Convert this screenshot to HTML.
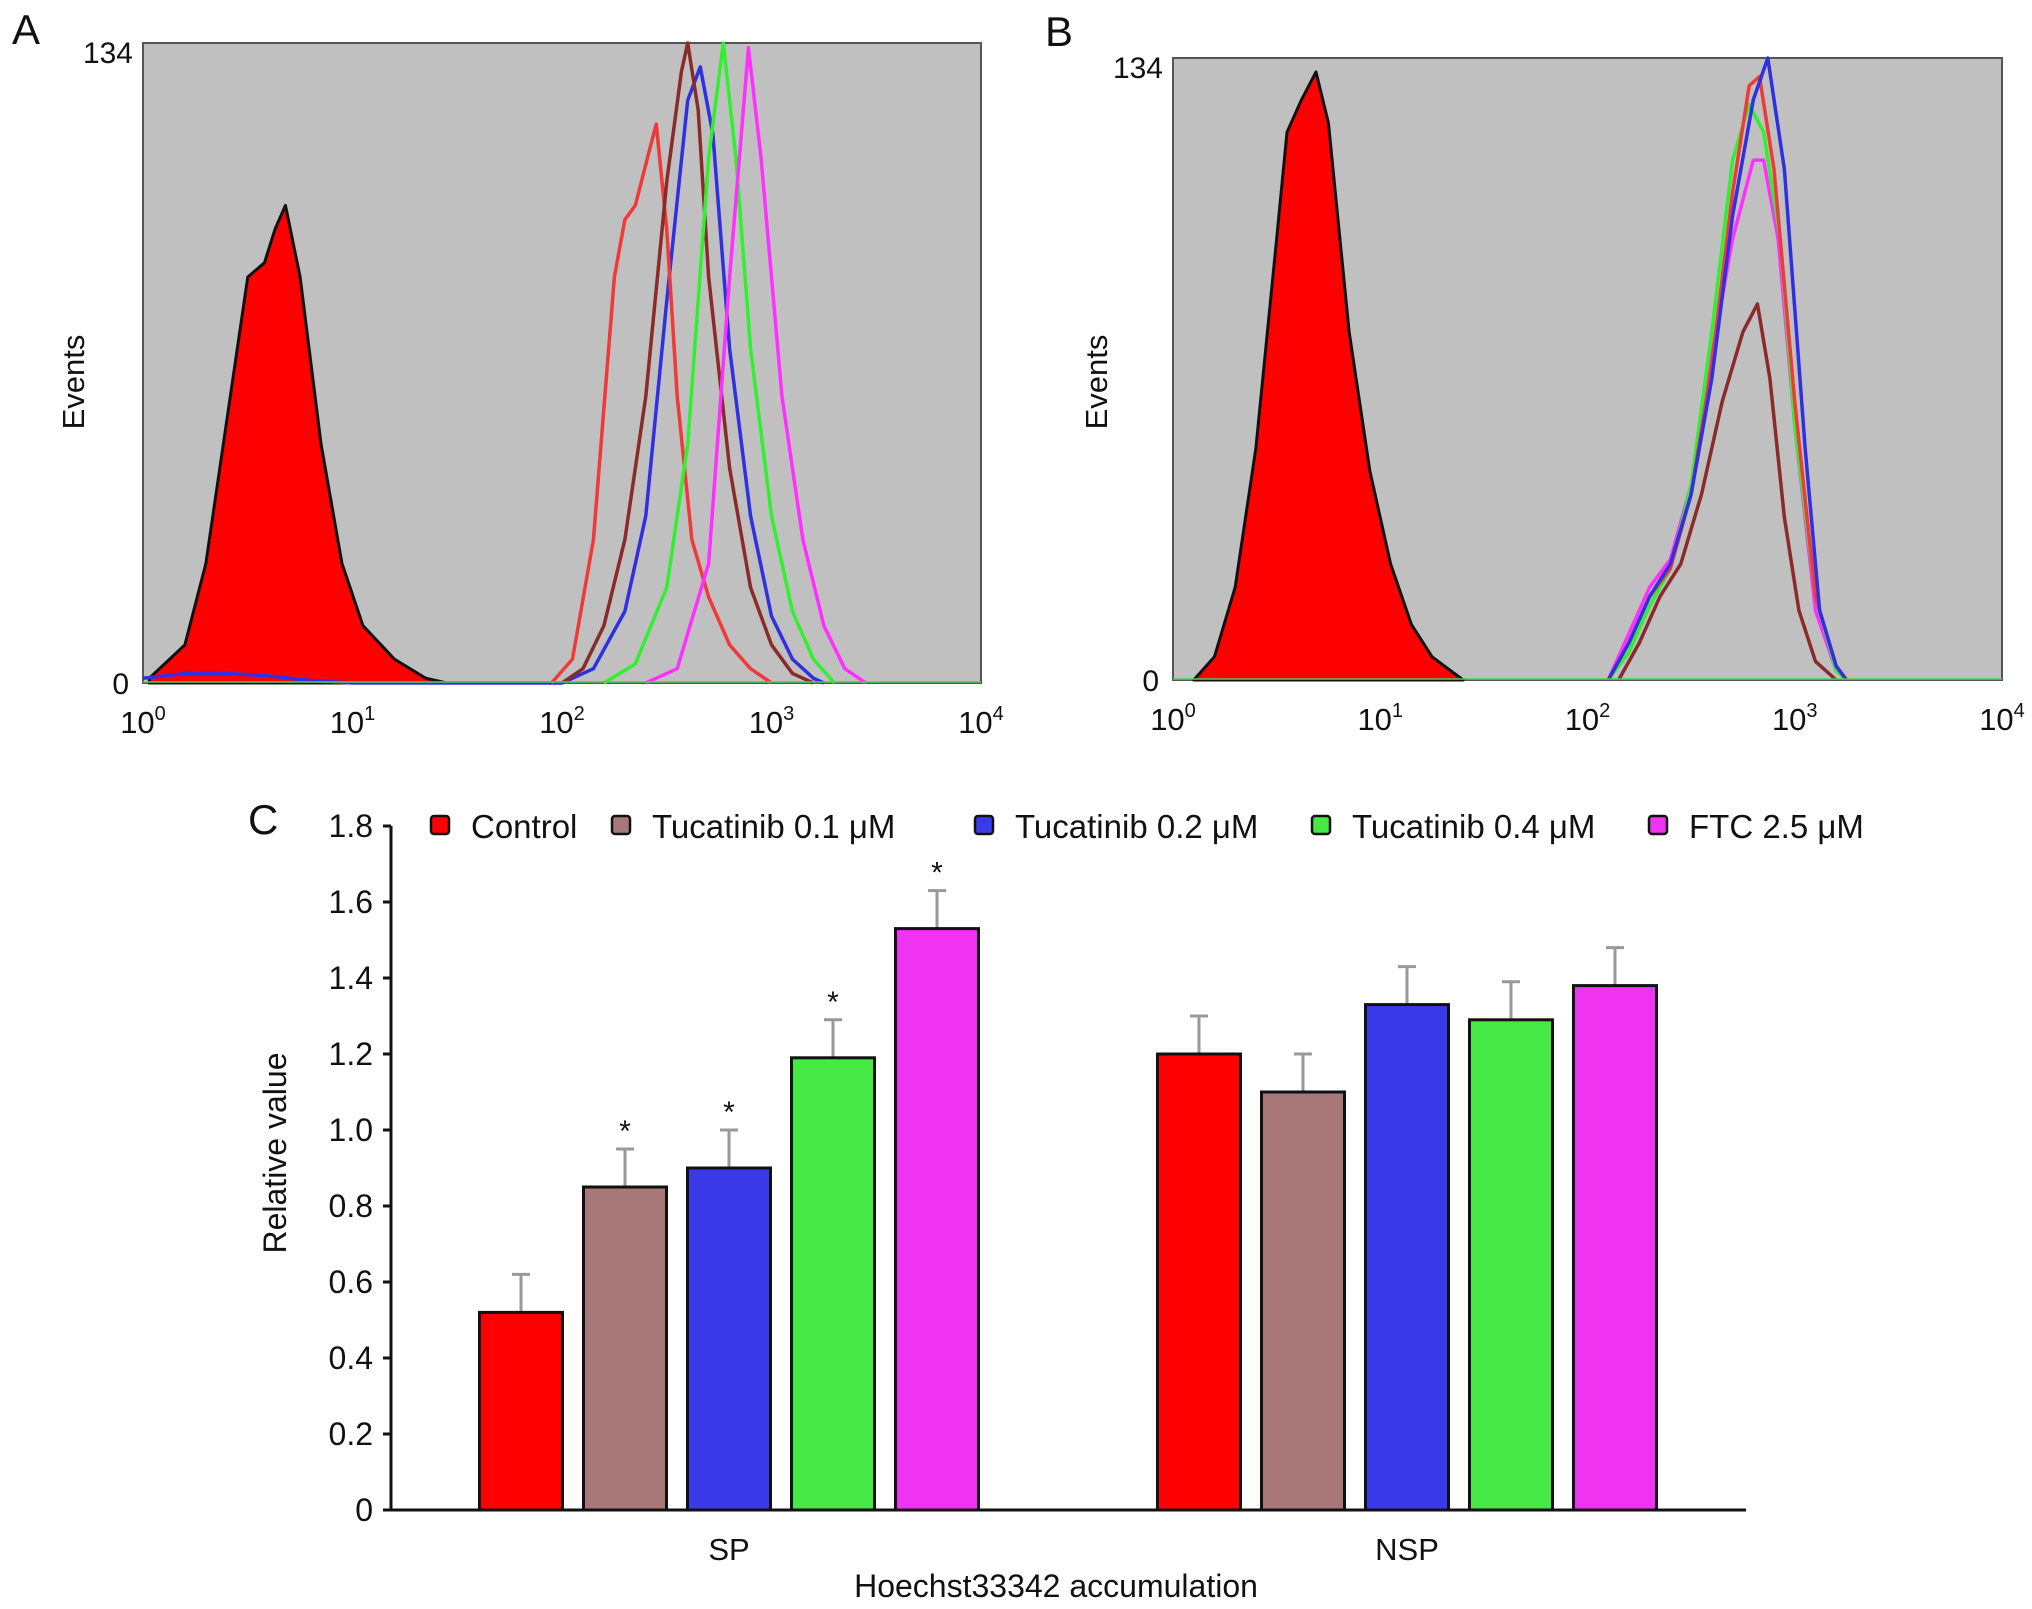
<!DOCTYPE html>
<html><head><meta charset="utf-8"><style>
html,body{margin:0;padding:0;background:#fff}
svg{display:block;font-family:"Liberation Sans",sans-serif}
</style></head><body>
<svg id="fig" width="2032" height="1609" viewBox="0 0 2032 1609">
<g id="pa"></g>
<g id="pb"></g>
<g id="pc"></g>
</svg>
<script>
// ---- Panel A data (log10 intensity, events) ----
const aFilledX=[0.03,0.2,0.3,0.4,0.5,0.58,0.63,0.68,0.75,0.85,0.95,1.05,1.2,1.35,1.45];
const aFilledY=[1,8,25,55,85,88,95,100,85,50,25,12,5,1,0];
const aRedX=[1.95,2.05,2.15,2.25,2.3,2.35,2.42,2.45,2.5,2.55,2.62,2.7,2.8,2.9,3.0];
const aRedY=[0,5,30,85,97,100,112,117,95,60,30,18,8,3,0];
const aBrownX=[2.0,2.1,2.2,2.3,2.4,2.5,2.57,2.6,2.65,2.7,2.8,2.9,3.0,3.1,3.2];
const aBrownY=[0,3,12,30,60,105,128,134,120,85,45,20,8,2,0];
const aBlueX=[0.0,0.2,0.4,0.6,0.8,1.0,2.0,2.15,2.3,2.4,2.5,2.6,2.66,2.72,2.8,2.9,3.0,3.1,3.2,3.25];
const aBlueY=[1,2,2,1.5,0.5,0,0,3,15,35,80,122,129,115,70,35,14,5,1,0];
const aGreenX=[2.2,2.35,2.5,2.6,2.7,2.77,2.83,2.9,3.0,3.1,3.2,3.3];
const aGreenY=[0,4,20,50,110,134,110,70,35,15,5,0];
const aMagX=[2.4,2.55,2.7,2.8,2.89,2.95,3.05,3.15,3.25,3.35,3.45];
const aMagY=[0,3,25,85,133,110,60,30,12,3,0];
// ---- Panel B data ----
const bFilledX=[0.1,0.2,0.3,0.4,0.5,0.55,0.62,0.69,0.75,0.85,0.95,1.05,1.15,1.25,1.4];
const bFilledY=[0,5,20,50,95,118,125,131,120,75,45,25,12,5,0];
const bBrownX=[2.15,2.25,2.35,2.45,2.55,2.65,2.75,2.82,2.88,2.95,3.02,3.1,3.2];
const bBrownY=[0,8,18,25,40,60,75,81,65,35,15,4,0];
const bMagX=[2.1,2.2,2.3,2.4,2.5,2.6,2.7,2.8,2.85,2.92,3.0,3.1,3.2,3.25];
const bMagY=[0,10,20,26,42,70,95,112,112,95,55,15,2,0];
const bGreenX=[2.1,2.2,2.3,2.4,2.5,2.6,2.7,2.78,2.85,2.93,3.0,3.1,3.2,3.25];
const bGreenY=[0,6,16,24,42,75,112,124,118,95,55,18,2,0];
const bRedX=[2.1,2.2,2.3,2.4,2.5,2.6,2.7,2.78,2.83,2.9,3.0,3.1,3.2,3.25];
const bRedY=[0,8,18,24,40,68,105,128,130,110,60,18,3,0];
const bBlueX=[2.1,2.2,2.3,2.4,2.5,2.6,2.7,2.8,2.87,2.95,3.05,3.12,3.2,3.25];
const bBlueY=[0,8,18,25,40,65,100,125,134,110,50,15,3,0];
// ---- Panel C data ----
const groups=["SP","NSP"];
const seriesNames=["Control","Tucatinib 0.1 μM","Tucatinib 0.2 μM","Tucatinib 0.4 μM","FTC 2.5 μM"];
const spValues=[0.52,0.85,0.90,1.19,1.53];
const spErrors=[0.10,0.10,0.10,0.10,0.10];
const nspValues=[1.20,1.10,1.33,1.29,1.38];
const nspErrors=[0.10,0.10,0.10,0.10,0.10];
const spStars=[false,true,true,true,true];
const yTicks=[0,0.2,0.4,0.6,0.8,1.0,1.2,1.4,1.6,1.8];
const yTickLabels=["0","0.2","0.4","0.6","0.8","1.0","1.2","1.4","1.6","1.8"];
const xPowers=[0,1,2,3,4];

const NS="http://www.w3.org/2000/svg";
function mk(tag,attrs,parent,text){const e=document.createElementNS(NS,tag);for(const k in attrs)e.setAttribute(k,attrs[k]);if(text!==undefined)e.textContent=text;parent.appendChild(e);return e;}

function histPanel(g,box,label,labelPos,filled,lines,eventsX){
  const sx=v=>box.x0+(v/4)*(box.x1-box.x0);
  const sy=v=>box.y1-(v/134)*(box.y1-box.y0);
  const bg=mk('rect',{x:box.x0,y:box.y0,width:box.x1-box.x0,height:box.y1-box.y0,fill:'#c0c0c0',stroke:'#555','stroke-width':2},g);
  
  
  let d='M'+sx(filled[0][0])+','+sy(0);
  filled[0].forEach((x,i)=>{d+=' L'+sx(x)+','+sy(filled[1][i]);});
  d+=' L'+sx(filled[0][filled[0].length-1])+','+sy(0)+'Z';
  const fp=mk('path',{d:d,fill:'#ff0000',stroke:'#111','stroke-width':3,'stroke-linejoin':'round'},g);
  
  
  lines.forEach(l=>{
    let p='';
    l.x.forEach((x,i)=>{p+=(i?' L':'M')+sx(x)+','+sy(l.y[i]);});
    const e=mk('path',{d:p,fill:'none',stroke:l.c,'stroke-width':3.5,'stroke-linejoin':'round'},g);
    
    
  });
  const bl=mk('line',{x1:box.x0,y1:box.y1-1,x2:box.x1,y2:box.y1-1,stroke:'#55cc55','stroke-width':1.5},g);
  
  
  xPowers.forEach(p=>{
    const t=mk('text',{x:sx(p),y:box.y1+50,'font-size':31,'text-anchor':'middle',fill:'#111'},g);
    
    
    mk('tspan',{},t,'10');
    mk('tspan',{dy:-13,'font-size':20},t,String(p));
  });
  const t134=mk('text',{x:box.x0-10,y:box.y0+20,'font-size':30,'text-anchor':'end',fill:'#111'},g,'134');
  
  
  const t0=mk('text',{x:box.x0-14,y:box.y1+11,'font-size':30,'text-anchor':'end',fill:'#111'},g,'0');
  
  
  const ev=mk('text',{x:eventsX,y:382,'font-size':31,'text-anchor':'middle',fill:'#111',transform:'rotate(-90 '+eventsX+' 382)'},g,'Events');
  
  
  const pl=mk('text',{x:labelPos[0],y:labelPos[1],'font-size':42,fill:'#111'},g,label);
  
  
}

histPanel(document.getElementById('pa'),{x0:143,x1:981,y0:43,y1:683},'A',[12,44],[aFilledX,aFilledY],[
 {x:aBlueX,y:aBlueY,c:'#3030e0',n:'tucatinib-0.2-line'},
 {x:aRedX,y:aRedY,c:'#f03a3a',n:'control-line'},
 {x:aBrownX,y:aBrownY,c:'#8b2a2a',n:'tucatinib-0.1-line'},
 {x:aGreenX,y:aGreenY,c:'#30f030',n:'tucatinib-0.4-line'},
 {x:aMagX,y:aMagY,c:'#ff30ff',n:'ftc-line'}],84);
histPanel(document.getElementById('pb'),{x0:1173,x1:2002,y0:58,y1:680},'B',[1045,46],[bFilledX,bFilledY],[
 {x:bBrownX,y:bBrownY,c:'#8b2a2a',n:'tucatinib-0.1-line'},
 {x:bMagX,y:bMagY,c:'#ff30ff',n:'ftc-line'},
 {x:bGreenX,y:bGreenY,c:'#30f030',n:'tucatinib-0.4-line'},
 {x:bRedX,y:bRedY,c:'#f03a3a',n:'control-line'},
 {x:bBlueX,y:bBlueY,c:'#3030e0',n:'tucatinib-0.2-line'}],1107);

// ---- Panel C ----
(function(){
  const g=document.getElementById('pc');
  const X0=391,X1=1746,Y0=1510,Y1=826;
  const sy=v=>Y0-(v/1.8)*(Y0-Y1);
  const groupCenters=[729,1407];
  const step=104,bw=83;
  const colors=['#ff0000','#a87878','#3a3ae8','#45e845','#f033f0'];
  const vals=[spValues,nspValues],errs=[spErrors,nspErrors];
  yTicks.forEach((v,i)=>{
    const tk=mk('line',{x1:X0-8,y1:sy(v),x2:X0,y2:sy(v),stroke:'#111','stroke-width':3},g);
    
    
    const tl=mk('text',{x:X0-18,y:sy(v)+11,'font-size':32,'text-anchor':'end',fill:'#111'},g,yTickLabels[i]);
    
    
  });
  groups.forEach((gn,gi)=>{
    vals[gi].forEach((v,si)=>{
      const cx=groupCenters[gi]+(si-2)*step;
      const top=sy(v),et=sy(v+errs[gi][si]);
      const e1=mk('line',{x1:cx,y1:top,x2:cx,y2:et,stroke:'#999','stroke-width':3},g);
      
      
      const e2=mk('line',{x1:cx-9,y1:et,x2:cx+9,y2:et,stroke:'#999','stroke-width':3},g);
      
      
      const r=mk('rect',{x:cx-bw/2,y:top,width:bw,height:Y0-top,fill:colors[si],stroke:'#111','stroke-width':3},g);
      
      
      if(gi===0&&spStars[si]){
        const s=mk('text',{x:cx,y:et-8,'font-size':30,'text-anchor':'middle',fill:'#111'},g,'*');
        
        
      }
    });
    const gl=mk('text',{x:groupCenters[gi],y:1560,'font-size':31,'text-anchor':'middle',fill:'#111'},g,gn);
    
    
  });
  const ya=mk('line',{x1:X0,y1:Y1,x2:X0,y2:Y0,stroke:'#111','stroke-width':3},g);
  
  
  const xa=mk('line',{x1:X0,y1:Y0,x2:X1,y2:Y0,stroke:'#111','stroke-width':3},g);
  
  
  const yt=mk('text',{x:286,y:1153,'font-size':32,'text-anchor':'middle',fill:'#111',transform:'rotate(-90 286 1153)'},g,'Relative value');
  
  
  const xt=mk('text',{x:1056,y:1597,'font-size':32,'text-anchor':'middle',fill:'#111'},g,'Hoechst33342 accumulation');
  
  
  const pl=mk('text',{x:248,y:834,'font-size':42,fill:'#111'},g,'C');
  
  
  const lx=[431,612,975,1312,1649];
  seriesNames.forEach((n,i)=>{
    const sq=mk('rect',{x:lx[i],y:816,width:18,height:18,rx:3,fill:colors[i],stroke:'#111','stroke-width':2.5},g);
    
    
    const lt=mk('text',{x:lx[i]+40,y:838,'font-size':33,fill:'#111'},g,n);
    
    
  });
})();
</script>
</body></html>
